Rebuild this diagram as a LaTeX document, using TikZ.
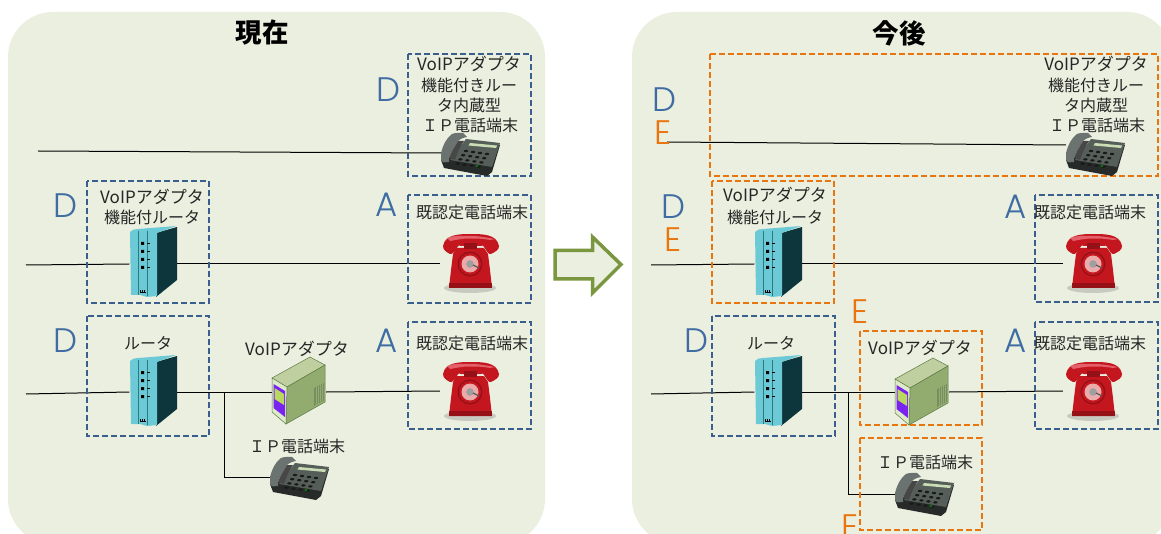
\documentclass[tikz,border=0pt]{standalone}
\usepackage{fontspec}
\setmainfont{Noto Sans CJK JP}
\newfontfamily\latl{Poppins Light}
\definecolor{panel}{HTML}{EBEFDF}
\definecolor{bluedash}{HTML}{3A5F8F}
\definecolor{orangedash}{HTML}{E9750F}
\definecolor{arrowgreen}{HTML}{7A963F}
\definecolor{lettblue}{HTML}{3F6CA3}
\definecolor{rfront}{HTML}{6CCAD6}
\definecolor{rside}{HTML}{0C363C}
\definecolor{rline}{HTML}{2A7A80}
\definecolor{redmain}{HTML}{C4161F}
\definecolor{reddark}{HTML}{961018}
\definecolor{redlite}{HTML}{E4606A}
\definecolor{dface}{HTML}{565E5A}
\definecolor{dbase}{HTML}{262A28}
\definecolor{dhand}{HTML}{6A7370}
\definecolor{dscreen}{HTML}{CBDDB4}
\definecolor{stop}{HTML}{BFCFA0}
\definecolor{sside}{HTML}{92AC70}
\definecolor{sfront}{HTML}{DDEBC8}
\definecolor{sedge}{HTML}{5E7A45}
\definecolor{spanel}{HTML}{B8D860}
\definecolor{spurple}{HTML}{7A22F0}
\tikzset{
  panelbox/.style={fill=panel,draw=none,rounded corners=45pt},
  bluebox/.style={draw=bluedash,line width=2.6pt,dash pattern=on 6pt off 3pt},
  orangebox/.style={draw=orangedash,line width=2.6pt,dash pattern=on 6pt off 3pt},
  txt/.style={font=\fontsize{16pt}{18pt}\selectfont,text=black!85,inner sep=0pt},
  vtxt/.style={font=\fontsize{17pt}{19pt}\selectfont,text=black!85,inner sep=0pt},
  ttl/.style={font=\fontsize{26.5pt}{28pt}\selectfont\bfseries,text=black,inner sep=0pt},
  letb/.style={font=\latl\fontsize{34pt}{34pt}\selectfont,text=lettblue,inner sep=0pt},
  leto/.style={font=\latl\fontsize{34pt}{34pt}\selectfont,text=orangedash,inner sep=0pt},
  wire/.style={draw=black,line width=1pt},
  routerslot/.style={inner sep=0pt,minimum width=47pt,minimum height=70pt},
  redslot/.style={inner sep=0pt,minimum width=60pt,minimum height=56pt},
  deskslot/.style={inner sep=0pt,minimum width=58pt,minimum height=42pt},
  serverslot/.style={inner sep=0pt,minimum width=54pt,minimum height=60pt},
  pics/routericon/.style={code={
    \begin{scope}[shift={(-153,-263)}]
      \fill[rside] (156,233) -- (177,227) -- (177,280) -- (156,297) -- cycle;
      \fill[rfront] (130,232) to[out=60,in=190] (138,229) -- (176,226) -- (157,233) -- (157,296) -- (147,297) -- (140,295) -- (131,295) -- cycle;
      \draw[rline,line width=0.7pt] (138,231) -- (138,295) (147,231) -- (147,296);
      \fill[black] (141,242) rectangle (144,245) (141,250) rectangle (144,253) (141,258) rectangle (144,261) (141,266) rectangle (144,269);
      \draw[black,line width=0.5pt] (147,243) -- (150,243) (147,251) -- (150,251) (147,259) -- (150,259) (147,267) -- (150,267) (140,292) -- (146,292) (140,290) -- (140,292) (142,290) -- (142,292) (144,290) -- (144,292);
    \end{scope}}},
  pics/redicon/.style={code={
    \begin{scope}[shift={(-470,-262)}]
      \fill[black!35,opacity=.5] (470,288) ellipse (26 and 5);
      \fill[redmain] (456,248) -- (484,248) -- (488,254) -- (490,270) -- (492,288) -- (449,288) -- (451,270) -- (453,254) -- cycle;
      \fill[reddark] (449,283) -- (492,283) -- (492,288) -- (449,288) -- cycle;
      \fill[redmain] (443,246) to[out=80,in=180] (470,234) to[out=0,in=100] (499,246) to[out=-90,in=30] (491,254) to[out=-170,in=60] (481,246) -- (461,246) to[out=120,in=-10] (450,254) to[out=150,in=-90] cycle;
      \fill[redlite] (447,238) to[out=20,in=180] (470,236) to[out=0,in=170] (495,239) -- (490,240) to[out=170,in=0] (470,238.5) to[out=180,in=10] (450,241) -- cycle;
      \fill[reddark] (464,243) rectangle (477,249);
      \fill[reddark] (470,264) circle (12.5);
      \fill[redmain] (470,264) circle (11);
      \fill[red!30!white!85!gray] (470,264) circle (8.5);
      \fill[gray!75] (470,264) circle (3.8);
      \draw[gray!70!black,line width=1.3pt] (473,265) -- (479,268);
    \end{scope}}},
  pics/deskicon/.style={code={
    \begin{scope}[shift={(-470,-155)}]
      \fill[dbase] (441,160) -- (444,168) -- (487,176) -- (492,172) -- (500,145) -- cycle;
      \fill[dface] (466,139) -- (500,143) -- (492,167) -- (450,160) -- cycle;
      \fill[dhand] (441,153) to[out=75,in=220] (452,134) to[out=20,in=180] (463,133) -- (467,137) to[out=190,in=40] (458,141) to[out=240,in=70] (449,158) -- (449,162) to[out=190,in=-70] (441,160) -- cycle;
      \fill[black!72] (449,158) to[out=70,in=240] (458,141) -- (464,141) to[out=235,in=70] (455,160) -- cycle;
      \fill[dscreen] (470,143) -- (497,145.5) -- (496,148) -- (468.5,145.5) -- cycle;
      \foreach \c in {0,1,2,3}{\foreach \r in {0,1,2,3}{
        \fill[black!90] ({466+\c*7-\r*2.8},{151+\c*1+\r*4.2}) ellipse (2.2 and 1.2);}}
      \fill[green!55!black] (477,166) ellipse (1.7 and 0.9);
    \end{scope}}},
  pics/servericon/.style={code={
    \begin{scope}[shift={(-299,-393)}]
      \draw[sedge,fill=stop,line width=0.5pt] (272,378) -- (310,357) -- (325,365) -- (287,387) -- cycle;
      \draw[sedge,fill=sside,line width=0.5pt] (287,387) -- (325,365) -- (325,402) -- (286,424) -- cycle;
      \draw[sedge,fill=sfront,line width=0.5pt] (272,378) -- (287,387) -- (286,424) -- (272,412) -- cycle;
      \fill[spurple] (273.5,384) -- (285,391) -- (285,417) -- (273.5,408) -- cycle;
      \fill[spanel] (274.5,388) -- (284,394) -- (284,405) -- (274.5,399) -- cycle;
      \foreach \i in {0,...,5}{\draw[sedge!85,line width=0.7pt] ({314+\i*1.8},{388-\i*1.1}) -- ++(0,18);}
    \end{scope}}},
}
\begin{document}
\begin{tikzpicture}[x=1pt,y=-1pt]
\useasboundingbox (0,0) rectangle (1161,534);
\clip (0,0) rectangle (1161,534);
\fill[white] (0,0) rectangle (1161,534);
\path[panelbox] (8,12) rectangle (545,544);
\path[panelbox] (632,12) rectangle (1172,544);
\node[ttl] (t1) at (262,33) {現在};
\node[ttl] (t2) at (899,33) {今後};
% arrow
\path[fill=panel,draw=arrowgreen,line width=3.5pt,miter limit=10] (555,250.5) -- (592.5,250.5) -- (592.5,237) -- (621,264.5) -- (592.5,293) -- (592.5,279) -- (555,279) -- cycle;
% slots
\node[routerslot] (r1) at (153,264) {};
\node[routerslot] (r2) at (153,392) {};
\node[routerslot] (r3) at (778,264) {};
\node[routerslot] (r4) at (778,392) {};
\node[redslot] (p1) at (470,264) {};
\node[redslot] (p2) at (470,391) {};
\node[redslot] (p3) at (1093,264) {};
\node[redslot] (p4) at (1093,391) {};
\node[deskslot] (d1) at (470,153) {};
\node[deskslot] (d2) at (299,477) {};
\node[deskslot] (d3) at (1095,145) {};
\node[deskslot] (d4) at (924,494) {};
\node[serverslot] (s1) at (299,392) {};
\node[serverslot] (s2) at (922,392) {};
% free ends
\coordinate (e1) at (38,151);
\coordinate (e2) at (26,265);
\coordinate (e3) at (26,394);
\coordinate (e4) at (667,142);
\coordinate (e5) at (651,265);
\coordinate (e6) at (651,394);
\coordinate (j1) at (224,392);
\coordinate (j2) at (848,392);
% connectors
\draw[wire] (e1) -- (d1.west);
\draw[wire] (e2) -- (r1.west);
\draw[wire] (r1.east) -- (p1.west);
\draw[wire] (e3) -- (r2.west);
\draw[wire] (r2.east) -- (s1.west);
\draw[wire] (s1.east) -- (p2.west);
\draw[wire] (j1) |- (d2.west);
\draw[wire] (e4) -- (d3.west);
\draw[wire] (e5) -- (r3.west);
\draw[wire] (r3.east) -- (p3.west);
\draw[wire] (e6) -- (r4.west);
\draw[wire] (r4.east) -- (s2.west);
\draw[wire] (s2.east) -- (p4.west);
\draw[wire] (j2) |- (d4.west);
% boxes
\draw[bluebox] (408,54) rectangle (531,176);
\draw[bluebox] (87,181) rectangle (209,303);
\draw[bluebox] (408,195) rectangle (531,303);
\draw[bluebox] (87,316) rectangle (209,436);
\draw[bluebox] (408,322) rectangle (531,429);
\draw[bluebox] (1035,195) rectangle (1158,302);
\draw[bluebox] (712,316) rectangle (835,436);
\draw[bluebox] (1035,322) rectangle (1158,429);
\draw[orangebox] (710,54) rectangle (1158,176);
\draw[orangebox] (712,181) rectangle (834,303);
\draw[orangebox] (860,331) rectangle (982,425);
\draw[orangebox] (860,438) rectangle (982,530);
% icons
\pic at ([yshift=1pt]r1) {routericon};
\pic at ([yshift=0pt]r2) {routericon};
\pic at ([yshift=1pt]r3) {routericon};
\pic at ([yshift=0pt]r4) {routericon};
\pic at ([yshift=2pt]p1) {redicon};
\pic at ([yshift=1pt]p2) {redicon};
\pic at ([yshift=2pt]p3) {redicon};
\pic at ([yshift=1pt]p4) {redicon};
\pic at ([yshift=-2pt]d1) {deskicon};
\pic at ([yshift=-2pt]d2) {deskicon};
\pic at ([yshift=-10pt]d3) {deskicon};
\pic at ([yshift=-1pt]d4) {deskicon};
\pic at ([yshift=-1pt]s1) {servericon};
\pic at ([yshift=-2pt]s2) {servericon};
% texts
\node[vtxt] (a1) at (469,64) {VoIPアダプタ};
\node[txt] (a2) at (469,85) {機能付きルー};
\node[txt] (a3) at (469,105) {タ内蔵型};
\node[txt] (a4) at (470,125) {ＩＰ電話端末};
\node[vtxt] (b1) at (152,197) {VoIPアダプタ};
\node[txt] (b2) at (152,217) {機能付ルータ};
\node[txt] (c1) at (472,212) {既認定電話端末};
\node[txt] (c2) at (472,343) {既認定電話端末};
\node[txt] (f1) at (148,343) {ルータ};
\node[vtxt] (g1) at (297,349) {VoIPアダプタ};
\node[txt] (g2) at (297,446) {ＩＰ電話端末};
\node[vtxt] (h1) at (1096,64) {VoIPアダプタ};
\node[txt] (h2) at (1096,85) {機能付きルー};
\node[txt] (h3) at (1096,105) {タ内蔵型};
\node[txt] (h4) at (1097,125) {ＩＰ電話端末};
\node[vtxt] (i1) at (775,195) {VoIPアダプタ};
\node[txt] (i2) at (775,217) {機能付ルータ};
\node[txt] (k1) at (1090,212) {既認定電話端末};
\node[txt] (k2) at (1090,343) {既認定電話端末};
\node[txt] (l1) at (771,343) {ルータ};
\node[vtxt] (m1) at (920,348) {VoIPアダプタ};
\node[txt] (m2) at (925,462) {ＩＰ電話端末};
% letters
\node[letb] (L1) at (388,90) {D};
\node[letb] (L2) at (66,206) {D};
\node[letb] (L3) at (387,205) {A};
\node[letb] (L4) at (66,341) {D};
\node[letb] (L5) at (387,341) {A};
\node[letb] (L6) at (664,100) {D};
\node[leto] (L7) at (663,133) {E};
\node[letb] (L8) at (673,207) {D};
\node[leto] (L9) at (673,240) {E};
\node[letb] (L10) at (1016,207) {A};
\node[leto] (L11) at (860,312) {E};
\node[letb] (L12) at (696,341) {D};
\node[letb] (L13) at (1016,341) {A};
\node[leto] (L14) at (850,527) {E};
\end{tikzpicture}
\end{document}
